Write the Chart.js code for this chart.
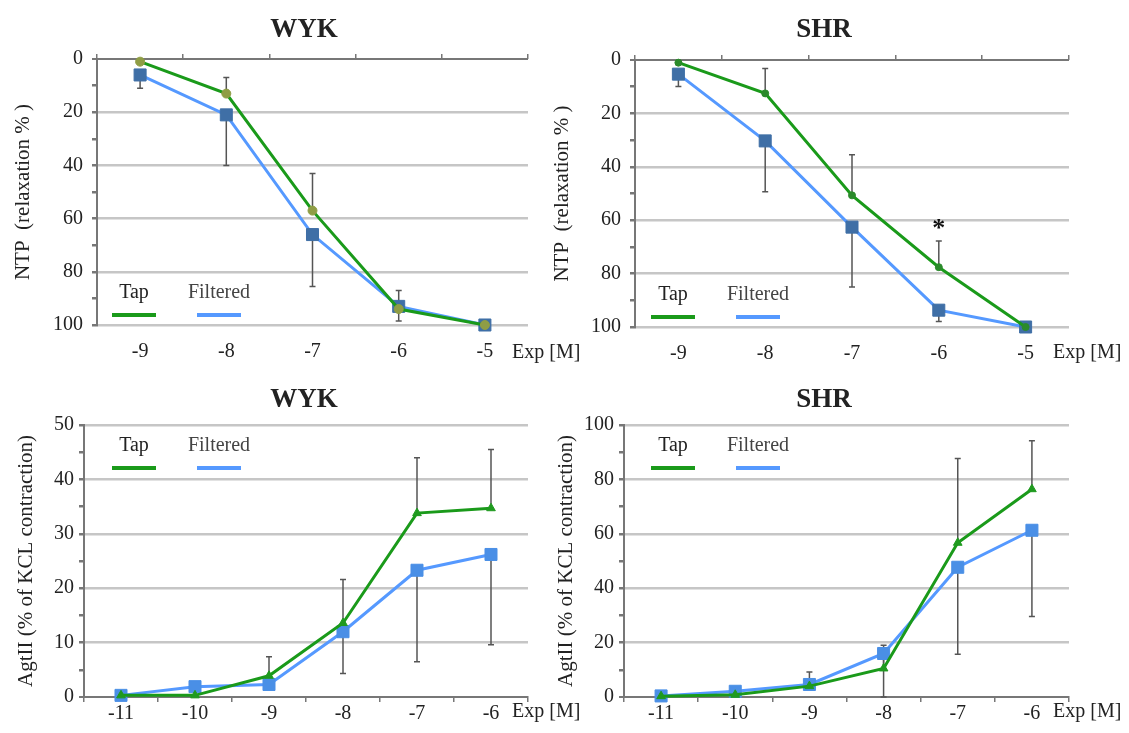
<!DOCTYPE html>
<html>
<head>
<meta charset="utf-8">
<script src="https://cdn.jsdelivr.net/npm/chart.js@4.4.0/dist/chart.umd.min.js"></script>
<style>
  body { margin: 0; background: #fff; width: 1129px; height: 733px; position: relative; overflow: hidden; }
  .panel { position: absolute; }
</style>
</head>
<body>
<div class="panel" style="left:0;top:0;width:608px;height:370px"><canvas id="ntpWyk"></canvas></div>
<div class="panel" style="left:520px;top:0;width:609px;height:370px"><canvas id="ntpShr"></canvas></div>
<div class="panel" style="left:0;top:370px;width:608px;height:363px"><canvas id="agtWyk"></canvas></div>
<div class="panel" style="left:520px;top:370px;width:609px;height:363px"><canvas id="agtShr"></canvas></div>

<script>
// --- DATA ---
const ntpDoses = ['-9', '-8', '-7', '-6', '-5'];
const agtDoses = ['-11', '-10', '-9', '-8', '-7', '-6'];

// NTP relaxation %, WYK
const wykNtpTap = [1, 13, 57, 94, 100];
const wykNtpTapErr = [0, 6, 14, 7, 0];
const wykNtpFilt = [6, 21, 66, 93, 100];
const wykNtpFiltErr = [5, 19, 19.5, 5.5, 0];

// NTP relaxation %, SHR
const shrNtpTap = [1, 12.5, 50.7, 77.6, 100];
const shrNtpTapErr = [0, 9.3, 15.2, 9.8, 0];
const shrNtpFilt = [5.3, 30.3, 62.6, 93.7, 100];
const shrNtpFiltErr = [4.6, 19, 22.4, 4.2, 0];
const shrNtpSig = ['', '', '', '*', ''];

// AgtII % of KCL contraction, WYK
const wykAgtTap = [0.3, 0.3, 3.9, 13.6, 33.8, 34.7];
const wykAgtTapErr = [0, 0, 3.5, 8, 10.2, 10.8];
const wykAgtFilt = [0.3, 1.9, 2.3, 12, 23.3, 26.2];
const wykAgtFiltErr = [0, 0, 0.8, 7.7, 16.8, 16.6];

// AgtII % of KCL contraction, SHR
const shrAgtTap = [0.3, 0.8, 4, 10.5, 56.7, 76.4];
const shrAgtTapErr = [0, 0, 5.2, 8.5, 31, 17.8];
const shrAgtFilt = [0.4, 2.1, 4.6, 16, 47.7, 61.3];
const shrAgtFiltErr = [0, 0, 0, 16, 32, 31.7];

const ntpTickLabels = [0, 20, 40, 60, 80, 100];
const wykAgtTickLabels = [0, 10, 20, 30, 40, 50];
const shrAgtTickLabels = [0, 20, 40, 60, 80, 100];

const SERIF = '"Liberation Serif", "DejaVu Serif", serif';
const TAP_GREEN = '#1a9a1a';
const FILT_BLUE = '#5599ff';
const GRID_GRAY = '#c6c6c6';
const AXIS_GRAY = '#777';

// error bars: drawn under the lines, one-sided (errDir = +1 toward higher values)
const errorBars = {
    id: 'errorBars',
    beforeDatasetsDraw(chart) {
        const ctx = chart.ctx;
        const yScale = chart.scales.y;
        chart.data.datasets.forEach((ds, i) => {
            if (!ds.errors) return;
            const meta = chart.getDatasetMeta(i);
            meta.data.forEach((pt, j) => {
                const e = ds.errors[j];
                if (!e) return;
                const y0 = yScale.getPixelForValue(ds.data[j]);
                const y1 = yScale.getPixelForValue(ds.data[j] + ds.errDir * e);
                ctx.save();
                ctx.strokeStyle = '#555';
                ctx.lineWidth = 1.5;
                ctx.beginPath();
                ctx.moveTo(pt.x, y0);
                ctx.lineTo(pt.x, y1);
                ctx.moveTo(pt.x - 3, y1);
                ctx.lineTo(pt.x + 3, y1);
                ctx.stroke();
                ctx.restore();
            });
        });
    }
};

// panel title, inline legend, "Exp [M]" unit and significance marks
function makeAnnotate(cfg) {
    return {
        id: 'annotate',
        afterDraw(chart) {
            const { ctx, chartArea: a } = chart;
            ctx.save();
            ctx.textBaseline = 'middle';

            ctx.font = 'bold 27px ' + SERIF;
            ctx.fillStyle = '#222';
            ctx.textAlign = 'center';
            ctx.fillText(cfg.title, cfg.titleX, 30);

            ctx.font = '20px ' + SERIF;
            ctx.textAlign = 'left';
            ctx.fillText('Exp [M]', a.right - 16, a.bottom + cfg.unitDy);

            const ly = cfg.legendTop ? a.top + 43 : a.bottom - 10;
            chart.data.datasets.forEach((ds, i) => {
                const x0 = a.left + cfg.legendX[i];
                ctx.strokeStyle = ds.borderColor;
                ctx.lineWidth = 4;
                ctx.beginPath();
                ctx.moveTo(x0, ly);
                ctx.lineTo(x0 + 44, ly);
                ctx.stroke();
                ctx.textAlign = 'center';
                ctx.fillStyle = i === 0 ? '#222' : '#444';
                ctx.fillText(ds.label, x0 + 22, ly - 22);
            });

            if (cfg.sig) {
                const ds = chart.data.datasets[0];
                const meta = chart.getDatasetMeta(0);
                ctx.font = 'bold 26px ' + SERIF;
                ctx.fillStyle = '#111';
                ctx.textAlign = 'center';
                cfg.sig.forEach((s, j) => {
                    if (!s) return;
                    const top = chart.scales.y.getPixelForValue(ds.data[j] + ds.errDir * ds.errors[j]);
                    ctx.fillText(s, meta.data[j].x, top - 12);
                });
            }
            ctx.restore();
        }
    };
}

function makeChart(id, cfg) {
    const ctx = document.getElementById(id).getContext('2d');
    const scales = {
        x: {
            type: 'category',
            offset: true,
            afterFit: s => { s.height = cfg.xHeight; },
            border: { display: !cfg.reverse, color: AXIS_GRAY, width: 2 },
            grid: {
                drawOnChartArea: false, offset: true,
                drawTicks: !cfg.reverse, tickLength: 5, tickColor: AXIS_GRAY, lineWidth: 1.5
            },
            ticks: {
                color: '#222', padding: cfg.reverse ? 15 : 0, maxRotation: 0,
                font: { family: SERIF, size: 20 }
            }
        },
        y: {
            min: 0, max: cfg.yMax, reverse: cfg.reverse,
            afterFit: s => { s.width = cfg.yWidth; },
            border: { color: AXIS_GRAY, width: 2 },
            grid: {
                color: c => c.tick.value === 0 ? AXIS_GRAY
                    : (cfg.tickLabels.includes(c.tick.value) ? GRID_GRAY : 'rgba(0,0,0,0)'),
                lineWidth: c => c.tick.value === 0 ? 2 : 2.5,
                tickColor: AXIS_GRAY, tickLength: 5
            },
            ticks: {
                stepSize: cfg.step, autoSkip: false, color: '#222',
                padding: cfg.reverse ? 9 : 5,
                font: { family: SERIF, size: 20 },
                callback: v => cfg.tickLabels.includes(v) ? v : ''
            },
            title: {
                display: true, text: cfg.yTitle, color: '#222',
                font: { family: SERIF, size: 21 },
                padding: { top: cfg.yTitlePad, bottom: 0 }
            }
        }
    };
    if (cfg.reverse) {
        // tick marks along the top axis line (value 0 sits at the top)
        scales.xTop = {
            type: 'category', position: 'top', offset: true,
            afterFit: s => { s.height = 0; },
            border: { display: false },
            grid: { drawOnChartArea: false, offset: true, tickLength: 5, tickColor: AXIS_GRAY, lineWidth: 1.5 },
            ticks: { display: false }
        };
    }
    return new Chart(ctx, {
        type: 'line',
        data: {
            labels: cfg.labels,
            datasets: [
                {
                    label: 'Tap', data: cfg.tap, errors: cfg.tapErr, errDir: cfg.tapDir,
                    borderColor: TAP_GREEN, borderWidth: 3, tension: 0, clip: false,
                    pointStyle: cfg.tapStyle, pointRadius: cfg.tapRadius,
                    pointBackgroundColor: cfg.tapColor, pointBorderColor: cfg.tapColor, pointBorderWidth: 1
                },
                {
                    label: 'Filtered', data: cfg.filt, errors: cfg.filtErr, errDir: -cfg.tapDir,
                    borderColor: FILT_BLUE, borderWidth: 3, tension: 0, clip: false,
                    pointStyle: 'rect', pointRadius: 8.5,
                    pointBackgroundColor: cfg.filtColor, pointBorderColor: cfg.filtColor, pointBorderWidth: 1
                }
            ]
        },
        options: {
            responsive: true,
            maintainAspectRatio: false,
            animation: false,
            layout: { padding: { left: 0, right: cfg.rightPad, top: cfg.topPad, bottom: 0 } },
            plugins: {
                legend: { display: false },
                tooltip: { enabled: false },
                title: { display: false }
            },
            scales: scales
        },
        plugins: [errorBars, makeAnnotate(cfg)]
    });
}

makeChart('ntpWyk', {
    title: 'WYK', titleX: 304, labels: ntpDoses, tap: wykNtpTap, tapErr: wykNtpTapErr,
    filt: wykNtpFilt, filtErr: wykNtpFiltErr, tapDir: -1, reverse: true,
    yMax: 100, step: 10, tickLabels: ntpTickLabels, yTitle: 'NTP  (relaxation % )',
    tapStyle: 'circle', tapRadius: 4.5, tapColor: '#8f9d45', filtColor: '#3f6fa6',
    yWidth: 97, yTitlePad: 11, rightPad: 80, topPad: 59, xHeight: 45,
    legendTop: false, legendX: [15, 100], unitDy: 28
});

makeChart('ntpShr', {
    title: 'SHR', titleX: 304, labels: ntpDoses, tap: shrNtpTap, tapErr: shrNtpTapErr,
    filt: shrNtpFilt, filtErr: shrNtpFiltErr, tapDir: -1, reverse: true,
    yMax: 100, step: 10, tickLabels: ntpTickLabels, yTitle: 'NTP  (relaxation % )',
    tapStyle: 'circle', tapRadius: 3.5, tapColor: '#2b8a2b', filtColor: '#3f6fa6',
    yWidth: 115, yTitlePad: 30, rightPad: 60, topPad: 60, xHeight: 43,
    legendTop: false, legendX: [16, 101], unitDy: 26, sig: shrNtpSig
});

makeChart('agtWyk', {
    title: 'WYK', titleX: 304, labels: agtDoses, tap: wykAgtTap, tapErr: wykAgtTapErr,
    filt: wykAgtFilt, filtErr: wykAgtFiltErr, tapDir: 1, reverse: false,
    yMax: 50, step: 5, tickLabels: wykAgtTickLabels, yTitle: 'AgtII (% of KCL contraction)',
    tapStyle: 'triangle', tapRadius: 5, tapColor: '#1f9a1f', filtColor: '#4a8fe6',
    yWidth: 84, yTitlePad: 14, rightPad: 80, topPad: 55, xHeight: 36,
    legendTop: true, legendX: [28, 113], unitDy: 15
});

makeChart('agtShr', {
    title: 'SHR', titleX: 304, labels: agtDoses, tap: shrAgtTap, tapErr: shrAgtTapErr,
    filt: shrAgtFilt, filtErr: shrAgtFiltErr, tapDir: 1, reverse: false,
    yMax: 100, step: 10, tickLabels: shrAgtTickLabels, yTitle: 'AgtII (% of KCL contraction)',
    tapStyle: 'triangle', tapRadius: 5, tapColor: '#1f9a1f', filtColor: '#4a8fe6',
    yWidth: 104, yTitlePad: 34, rightPad: 60, topPad: 55, xHeight: 36,
    legendTop: true, legendX: [27, 112], unitDy: 15
});
</script>
</body>
</html>
